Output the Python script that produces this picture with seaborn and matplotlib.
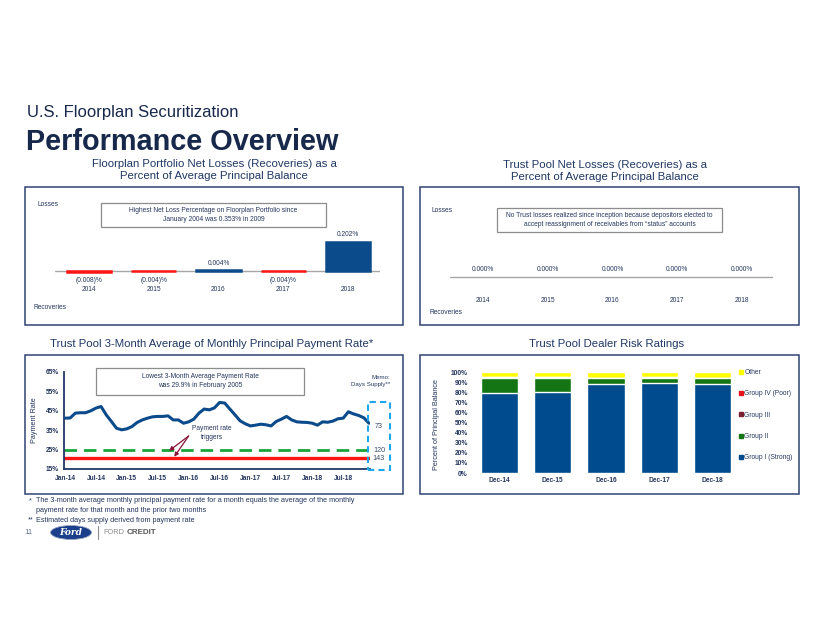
import matplotlib
matplotlib.use("Agg")
import matplotlib.pyplot as plt
import seaborn as sns
import pandas as pd
from matplotlib.patches import Rectangle, Ellipse
from matplotlib.lines import Line2D

# ---------------- data ----------------
fp_years = ['2014', '2015', '2016', '2017', '2018']
fp_loss = [-0.008, -0.004, 0.004, -0.004, 0.202]
fp_labels = ['(0.008)%', '(0.004)%', '0.004%', '(0.004)%', '0.202%']

tp_years = ['2014', '2015', '2016', '2017', '2018']
tp_loss = [0.0, 0.0, 0.0, 0.0, 0.0]
tp_labels = ['0.000%', '0.000%', '0.000%', '0.000%', '0.000%']

payment_rate = [
    41.2, 41.3, 43.8, 44.0, 44.0, 45.0, 46.4, 47.2, 42.9, 39.5, 36.0, 35.2,
    35.7, 36.9, 39.0, 40.3, 41.2, 41.9, 42.1, 42.1, 42.4, 40.3, 40.3, 38.6,
    39.3, 40.7, 43.8, 45.9, 45.5, 46.5, 49.3, 49.0, 45.9, 42.9, 39.8, 38.3,
    37.2, 37.6, 38.1, 37.8, 37.2, 39.5, 40.7, 42.1, 40.3, 39.3, 39.1, 39.0,
    38.6, 37.6, 39.3, 39.1, 39.7, 40.9, 41.2, 44.5, 43.4, 42.6, 41.4, 38.6,
]
month_tick_labels = ['Jan-14', 'Jul-14', 'Jan-15', 'Jul-15', 'Jan-16',
                     'Jul-16', 'Jan-17', 'Jul-17', 'Jan-18', 'Jul-18']
rate_ticks = [15, 25, 35, 45, 55, 65]
trigger_green = 25.0
trigger_red = 20.5
days_supply = ['73', '120', '143']

risk_dates = ['Dec-14', 'Dec-15', 'Dec-16', 'Dec-17', 'Dec-18']
group_i = [79.0, 80.0, 88.0, 89.0, 88.5]
group_ii = [15.5, 13.8, 6.0, 5.5, 5.5]
group_iii = [0.5, 0.8, 0.2, 0.2, 0.2]
group_iv = [0.4, 0.8, 0.1, 0.1, 0.1]
other = [100 - a - b - c - d for a, b, c, d in zip(group_i, group_ii, group_iii, group_iv)]
risk_ticks = list(range(0, 101, 10))

# ---------------- style ----------------
sns.set_theme(style="white")
plt.rcParams['font.family'] = ['Liberation Sans', 'DejaVu Sans']

W, H = 818, 635
TITLE = '#17284a'
NAVY = '#1f3864'
TXT = '#24365e'
BLUE = '#0b4a8b'
RED = '#ff1414'
GREEN_D = '#1aa33a'
FRAME = '#2f4373'

fig = plt.figure(figsize=(W / 100, H / 100), dpi=100)
fig.patch.set_facecolor('white')


def fx(x):
    return x / W


def fy(y):
    return 1 - y / H


def axes_px(x0, y0, x1, y1):
    return fig.add_axes([fx(x0), fy(y1), (x1 - x0) / W, (y1 - y0) / H])


def rect(x0, y0, x1, y1, **kw):
    fig.add_artist(Rectangle((fx(x0), fy(y1)), (x1 - x0) / W, (y1 - y0) / H,
                             transform=fig.transFigure, **kw))


def ftext(x, y, s, **kw):
    kw.setdefault('va', 'center')
    fig.text(fx(x), fy(y), s, **kw)


def clean(ax):
    for s in ax.spines.values():
        s.set_visible(False)
    ax.set_facecolor('none')
    ax.set_xlabel('')
    ax.set_ylabel('')


# ---------------- headings ----------------
ftext(27, 113, 'U.S. Floorplan Securitization', fontsize=12, color=TITLE)
ftext(26, 142, 'Performance Overview', fontsize=20.8, fontweight='bold', color=TITLE)

ftext(214, 170, 'Floorplan Portfolio Net Losses (Recoveries) as a\nPercent of Average Principal Balance',
      fontsize=8.2, color=NAVY, ha='center', linespacing=1.25)
ftext(605, 171, 'Trust Pool Net Losses (Recoveries) as a\nPercent of Average Principal Balance',
      fontsize=8.2, color=NAVY, ha='center', linespacing=1.25)
ftext(212, 344, 'Trust Pool 3-Month Average of Monthly Principal Payment Rate*',
      fontsize=8.2, color=NAVY, ha='center')
ftext(607, 344, 'Trust Pool Dealer Risk Ratings', fontsize=8.2, color=NAVY, ha='center')

# panel frames
for (x0, y0, x1, y1) in [(25, 187, 403, 325), (420, 187, 799, 325),
                         (25, 355, 403, 494), (420, 355, 799, 494)]:
    rect(x0, y0, x1, y1, fill=False, edgecolor=FRAME, lw=1.1)

SMALL = 4.8

# ---------------- panel 1 ----------------
ax1 = axes_px(55, 235, 380, 285)
df1 = pd.DataFrame({'year': fp_years, 'value': fp_loss,
                    'sign': ['neg' if v < 0 else 'pos' for v in fp_loss]})
sns.barplot(data=df1, x='year', y='value', hue='sign', order=fp_years,
            palette={'neg': RED, 'pos': BLUE}, dodge=False, width=0.69,
            saturation=1, legend=False, ax=ax1)
for p in ax1.patches:
    p.set_edgecolor(p.get_facecolor())
    p.set_linewidth(1.8)
ax1.set_ylim(-0.1, 0.25)
ax1.set_xlim(-0.525, 4.495)
ax1.axhline(0, color='#a6a6a6', lw=1, zorder=0)
clean(ax1)
ax1.set_yticks([])
ax1.tick_params(axis='x', length=0, pad=1, labelsize=SMALL, labelcolor=TXT)
for i, (v, lab) in enumerate(zip(fp_loss, fp_labels)):
    if v >= 0:
        ax1.annotate(lab, (i, v), xytext=(0, 2.5), textcoords='offset points',
                     ha='center', va='bottom', fontsize=SMALL, color=TXT)
    else:
        ax1.text(i, -0.07, lab, ha='center', va='center', fontsize=SMALL, color=TXT)

ftext(37, 205, 'Losses', fontsize=SMALL, color=TXT)
ftext(33, 308, 'Recoveries', fontsize=SMALL, color=TXT)
rect(101, 203, 326, 227, facecolor='white', edgecolor='#8c8c8c', lw=0.9)
ftext(213.5, 215, 'Highest Net Loss Percentage on Floorplan Portfolio since\nJanuary 2004 was 0.353% in 2009',
      fontsize=SMALL, color=TXT, ha='center', linespacing=1.3)

# ---------------- panel 2 ----------------
ax2 = axes_px(450, 260, 773, 294)
df2 = pd.DataFrame({'year': tp_years, 'value': tp_loss})
sns.barplot(data=df2, x='year', y='value', order=tp_years, color=BLUE,
            width=0.71, saturation=1, linewidth=0, ax=ax2)
for p in ax2.patches:
    p.set_linewidth(0)
ax2.set_ylim(-1, 1)
ax2.set_xlim(-0.51, 4.48)
ax2.axhline(0, color='#a6a6a6', lw=1, zorder=5)
clean(ax2)
ax2.set_yticks([])
ax2.tick_params(axis='x', length=0, pad=2.5, labelsize=SMALL, labelcolor=TXT)
for i, (v, lab) in enumerate(zip(tp_loss, tp_labels)):
    ax2.annotate(lab, (i, v), xytext=(0, 3), textcoords='offset points',
                 ha='center', va='bottom', fontsize=SMALL, color=TXT)

ftext(432, 210, 'Losses', fontsize=SMALL, color=TXT)
ftext(429, 313, 'Recoveries', fontsize=SMALL, color=TXT)
rect(497, 208, 722, 232, facecolor='white', edgecolor='#8c8c8c', lw=0.9)
ftext(609.5, 220, 'No Trust losses realized since inception because depositors elected to\naccept reassignment of receivables from \u201cstatus\u201d accounts',
      fontsize=SMALL, color=TXT, ha='center', linespacing=1.3)

# ---------------- panel 3 ----------------
ax3 = axes_px(64, 372, 370, 469)
months = list(range(len(payment_rate)))
df3 = pd.DataFrame({'month': months, 'rate': payment_rate})
ax3.axhline(trigger_green, color=GREEN_D, lw=2.0, ls=(0, (4.5, 2.5)), zorder=1)
ax3.axhline(trigger_red, color=RED, lw=2.4, zorder=1)
sns.lineplot(data=df3, x='month', y='rate', color=BLUE, lw=2.2, ax=ax3, zorder=3)
ax3.set_xlim(-0.2, 59.2)
ax3.set_ylim(15, 65)
clean(ax3)
for side in ('left', 'bottom'):
    ax3.spines[side].set_visible(True)
    ax3.spines[side].set_color(NAVY)
    ax3.spines[side].set_linewidth(1.3)
ax3.set_xticks(list(range(0, 60, 6)))
ax3.set_xticklabels(month_tick_labels)
ax3.set_yticks(rate_ticks)
ax3.set_yticklabels([f'{t}%' for t in rate_ticks])
ax3.tick_params(length=0, labelsize=SMALL, labelcolor=TXT)
ax3.tick_params(axis='x', pad=4.5)
ax3.tick_params(axis='y', pad=3.5)
for lab in ax3.get_xticklabels() + ax3.get_yticklabels():
    lab.set_fontweight('bold')

ftext(34, 420, 'Payment Rate', fontsize=5.2, color=TXT, rotation=90, ha='center')
rect(96, 368, 304, 395, facecolor='white', edgecolor='#8c8c8c', lw=0.9)
ftext(200, 381, 'Lowest 3-Month Average Payment Rate\nwas 29.9% in February 2005',
      fontsize=SMALL, color=TXT, ha='center', linespacing=1.3)
ftext(390, 381, 'Memo:\nDays Supply**', fontsize=4.4, color=TXT, ha='right', linespacing=1.35)

ax3.text(28.5, 33.5, 'Payment rate\ntriggers', fontsize=SMALL, color=TXT,
         ha='center', va='center', linespacing=1.3)
for tx, ty in [(20.2, 24.4), (21.2, 21.3)]:
    ax3.annotate('', xy=(tx, ty), xytext=(24.0, 32.0),
                 arrowprops=dict(arrowstyle='-|>', color='#8b1538', lw=0.9,
                                 mutation_scale=6, shrinkA=0, shrinkB=0))

rect(368, 402, 390, 470, fill=False, edgecolor='#1ea7ea', lw=1.5, ls=(0, (3, 2)))
for lab, ypix in zip(days_supply, [427, 451, 459]):
    ftext(379, ypix, lab, fontsize=5.2, color='#3c4a66', ha='center')

# ---------------- panel 4 ----------------
ax4 = axes_px(472, 372, 740, 473)
layers = [
    ('Other', other, '#ffff00'),
    ('Group IV (Poor)', group_iv, '#e8141c'),
    ('Group III', group_iii, '#7b1f33'),
    ('Group II', group_ii, '#137513'),
    ('Group I (Strong)', group_i, '#004b8d'),
]
# cumulative tops, drawn from the outermost layer inward
order_bottom_up = [group_i, group_ii, group_iii, group_iv, other]
cum = []
run = [0.0] * len(risk_dates)
for vals in order_bottom_up:
    run = [r + v for r, v in zip(run, vals)]
    cum.append(run)
cum_top_down = cum[::-1]
for (name, vals, col), tops in zip(layers, cum_top_down):
    dfl = pd.DataFrame({'date': risk_dates, 'top': tops})
    sns.barplot(data=dfl, x='date', y='top', order=risk_dates, color=col,
                width=0.695, saturation=1, ax=ax4)
ax4.set_ylim(0, 100)
ax4.set_xlim(-0.516, 4.516)
clean(ax4)
ax4.set_yticks(risk_ticks)
ax4.set_yticklabels([f'{t}%' for t in risk_ticks])
ax4.tick_params(length=0, labelsize=SMALL, labelcolor=TXT, pad=3)
for lab in ax4.get_xticklabels() + ax4.get_yticklabels():
    lab.set_fontweight('bold')
ftext(436, 425, 'Percent of Principal Balance', fontsize=5.2, color=TXT,
      rotation=90, ha='center')

handles = [Line2D([], [], marker='s', ls='none', markersize=2.6,
                  markerfacecolor=col, markeredgecolor=col) for _, _, col in layers]
leg = ax4.legend(handles, [n for n, _, _ in layers], loc='upper left',
                 bbox_to_anchor=(fx(739), fy(369)), bbox_transform=fig.transFigure,
                 frameon=False, fontsize=SMALL, handlelength=0.5, handletextpad=0.3,
                 labelspacing=2.15, borderpad=0, borderaxespad=0)
for t in leg.get_texts():
    t.set_color(TXT)

# ---------------- footnotes / footer ----------------
FOOT = 5.2
ftext(29, 501, '*', fontsize=FOOT, color=TXT)
ftext(36, 501, 'The 3-month average monthly principal payment rate for a month equals the average of the monthly',
      fontsize=FOOT, color=TXT)
ftext(36, 510, 'payment rate for that month and the prior two months', fontsize=FOOT, color=TXT)
ftext(28, 520, '**', fontsize=FOOT, color=TXT)
ftext(36, 520, 'Estimated days supply derived from payment rate', fontsize=FOOT, color=TXT)

ftext(24, 532, '11', fontsize=5.6, color='#6b7896')
fig.add_artist(Ellipse((fx(71), fy(532.5)), 41 / W, 14 / H, transform=fig.transFigure,
                       facecolor='#1c3f8c', edgecolor='#9aa7c4', lw=0.6))
ftext(71, 532.5, 'Ford', fontsize=6.5, color='white', ha='center',
      family=['DejaVu Serif'], style='italic', fontweight='bold')
fig.add_artist(Line2D([fx(98), fx(98)], [fy(526), fy(539)], transform=fig.transFigure,
                      color='#8c8c8c', lw=0.8))
ftext(103, 532.5, 'FORD', fontsize=5.3, color='#8a8a8a')
ftext(127, 532.5, 'CREDIT', fontsize=5.8, color='#5a5a5a', fontweight='bold')

fig.savefig('out.png', dpi=100)
